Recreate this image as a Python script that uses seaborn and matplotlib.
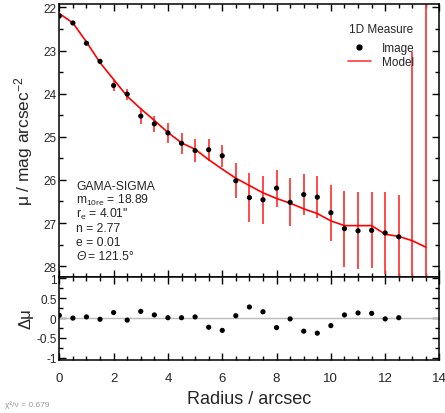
import numpy as np
import pandas as pd
import matplotlib
matplotlib.use('Agg')
import matplotlib.pyplot as plt
from matplotlib.ticker import MultipleLocator
from matplotlib.lines import Line2D
import seaborn as sns

sns.set_style('ticks')
plt.rcParams['font.family'] = ['Liberation Sans', 'DejaVu Sans']
plt.rcParams['mathtext.fontset'] = 'custom'
plt.rcParams['mathtext.rm'] = 'Liberation Sans'
plt.rcParams['mathtext.it'] = 'Liberation Sans:italic'

# 1D profile (image points)
radius = [0, 0.5, 1, 1.5, 2, 2.5, 3, 3.5, 4, 4.5, 5, 5.5, 6, 6.5,
          7, 7.5, 8, 8.5, 9, 9.5, 10, 10.5, 11, 11.5, 12, 12.5]
mu_image = [22.20, 22.36, 22.83, 23.25, 23.81, 24.01, 24.52, 24.70, 24.91, 25.15,
            25.32, 25.30, 25.44, 26.02, 26.41, 26.46, 26.19, 26.52, 26.34, 26.40,
            26.76, 27.13, 27.18, 27.17, 27.23, 27.32]
residual = [0.07, 0.00, 0.03, -0.03, 0.14, -0.05, 0.17, 0.08, 0.01, 0.01,
            0.03, -0.23, -0.31, 0.06, 0.28, 0.16, -0.24, -0.02, -0.33, -0.38,
            -0.19, 0.08, 0.13, 0.12, -0.02, 0.01]

# error bars (last two points fall below the plotted range)
radius_err = radius + [13, 13.5]
mu_err_centre = mu_image + [29.45, 31.0]
mu_err = [0.02, 0.03, 0.05, 0.06, 0.13, 0.13, 0.19, 0.19, 0.23, 0.24,
          0.27, 0.26, 0.25, 0.41, 0.56, 0.56, 0.43, 0.56, 0.47, 0.49,
          0.65, 0.88, 0.89, 0.88, 0.95, 0.97, 6.42, 10.0]

# model profile
radius_model = radius + [13, 13.5]
mu_model = [22.14, 22.36, 22.80, 23.28, 23.67, 24.06, 24.35, 24.62, 24.90, 25.14,
            25.29, 25.53, 25.75, 25.96, 26.13, 26.30, 26.43, 26.54, 26.67, 26.78,
            26.95, 27.06, 27.06, 27.06, 27.26, 27.31, 27.41, 27.56]

fit_text = ['GAMA-SIGMA',
            r'm$_{\mathregular{10re}}$ = 18.89',
            r'r$_{\mathregular{e}}$ = 4.01"',
            'n = 2.77',
            'e = 0.01']
theta_text = '= 121.5°'
chi_text = 'χ²/ν = 0.679'

img = pd.DataFrame({'r': radius, 'mu': mu_image, 'res': residual})
mod = pd.DataFrame({'r': radius_model, 'mu': mu_model})

W, H = 445, 414
fig = plt.figure(figsize=(W / 100, H / 100), dpi=100)
ax1 = fig.add_axes([59.3 / W, 1 - 277.5 / H, 380.2 / W, 272.5 / H])
ax2 = fig.add_axes([59.3 / W, 1 - 360.7 / H, 380.2 / W, 83.2 / H])

red = '#ff3b3b'
ax1.errorbar(radius_err, mu_err_centre, yerr=mu_err, fmt='none',
             ecolor=red, elinewidth=1.3, capsize=0, zorder=1)
sns.lineplot(data=mod, x='r', y='mu', color='red', lw=1.2, ax=ax1, zorder=2)
sns.scatterplot(data=img, x='r', y='mu', color='black', s=14,
                edgecolor='none', ax=ax1, zorder=3)

ax1.set_xlim(0, 14)
ax1.set_ylim(28.24, 21.92)
ax1.set_xlabel('')
ax1.set_ylabel(r'μ / mag arcsec$^{\mathregular{-2}}$', fontsize=12.5, labelpad=6)

handles = [Line2D([], [], marker='o', ls='none', color='black', markersize=3.5),
           Line2D([], [], color=red, lw=1.2)]
leg = ax1.legend(handles, ['Image', 'Model'], title='1D Measure', loc='upper right',
                 bbox_to_anchor=(0.962, 0.968), frameon=False, fontsize=8.5,
                 title_fontsize=8.5, handlelength=2.0, labelspacing=0.15,
                 handletextpad=0.9)
leg._legend_box.sep = 5

for i, line in enumerate(fit_text):
    ax1.text(76 / W, 1 - (186.7 + 14 * i) / H, line, transform=fig.transFigure,
             fontsize=8.7, va='center', ha='left')
ax1.text(76 / W, 1 - (186.7 + 14 * 5) / H, 'Θ', transform=fig.transFigure,
         fontsize=8.7, va='center', ha='left', style='italic')
ax1.text(88 / W, 1 - (186.7 + 14 * 5) / H, theta_text, transform=fig.transFigure,
         fontsize=8.7, va='center', ha='left')

# residual panel
ax2.axhline(0, color='#bbbbbb', lw=1, zorder=1)
sns.scatterplot(data=img, x='r', y='res', color='black', s=14,
                edgecolor='none', ax=ax2, zorder=3)
ax2.set_xlim(0, 14)
ax2.set_ylim(-1.05, 1.05)
ax2.set_ylabel('Δμ', fontsize=12, labelpad=2)
ax2.set_xlabel('Radius / arcsec', fontsize=13, labelpad=4)

for ax in (ax1, ax2):
    ax.xaxis.set_major_locator(MultipleLocator(2))
    ax.xaxis.set_minor_locator(MultipleLocator(0.5))
    ax.tick_params(which='both', direction='in', top=True, right=True, width=1, color='black')
    ax.tick_params(which='major', length=5)
    ax.tick_params(which='minor', length=3)
    ax.tick_params(axis='y', labelsize=8.5, pad=2)
    ax.tick_params(axis='x', labelsize=9.5, pad=9)
    for s in ax.spines.values():
        s.set_linewidth(1.1)
        s.set_color('black')
ax1.yaxis.set_major_locator(MultipleLocator(1))
ax1.yaxis.set_minor_locator(MultipleLocator(0.5))
ax1.tick_params(axis='x', labelbottom=False)
ax2.yaxis.set_major_locator(MultipleLocator(0.5))
ax2.yaxis.set_minor_locator(MultipleLocator(0.25))
ax2.set_yticks([-1, -0.5, 0, 0.5, 1])
ax2.set_yticklabels(['-1', '-0.5', '0', '0.5', '1'])

fig.text(5 / W, 1 - 405 / H, chi_text, fontsize=6, color='#999999', va='center')

fig.savefig('out.png', dpi=100)
